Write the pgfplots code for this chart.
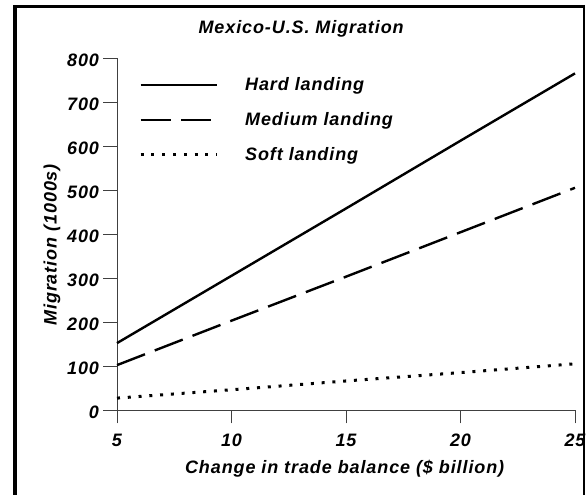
\documentclass[border=0pt]{standalone}
\usepackage{fontspec}
\setmainfont{Liberation Sans}[LetterSpace=5]
\usepackage{pgfplots}
\pgfplotsset{compat=1.18}
\newcommand{\cf}{\fontsize{18}{21}\selectfont\bfseries\itshape}
\begin{document}
\begin{tikzpicture}[x=1pt,y=1pt]
\useasboundingbox (0,0) rectangle (587,495);
\draw[line width=4pt] (15.3,-10) -- (15.3,488.5);
\draw[line width=3.6pt] (13.3,488.3) -- (585,488.3);
\draw[line width=2pt] (584,490) -- (584,-10);
\begin{axis}[
  at={(117pt,85pt)}, anchor=origin,
  scale only axis, width=458pt, height=352pt,
  xmin=5, xmax=25, ymin=0, ymax=800,
  xtick={5,10,15,20,25}, ytick={0,100,...,800},
  axis x line*=bottom, axis y line*=left,
  axis line style={line width=0.8pt, black!75},
  tick style={line width=0.8pt, black!75},
  tick align=outside, major tick length=13.5pt,
  /pgf/number format/assume math mode=true,
  ticklabel style={font=\cf},
  xticklabel style={yshift=-7pt},
  yticklabel style={xshift=-1pt, yshift=-2pt},
  title={Mexico-U.S. Migration},
  title style={font=\cf, at={(axis description cs:0.402,1.065)}, anchor=center, yshift=0pt},
  xlabel={Change in trade balance (\$ billion)},
  xlabel style={font=\cf, at={(axis description cs:0.497,-0.168)}, anchor=center},
  ylabel={Migration (1000s)},
  ylabel style={font=\cf, at={(axis description cs:-0.142,0.469)}, anchor=center},
  clip=false,
  legend style={draw=none, fill=none, at={(axis description cs:0.048,0.945)}, anchor=north west,
    inner sep=0pt, row sep=20.5pt, font=\cf, nodes={inner sep=0pt, anchor=west}},
  legend cell align=left,
  legend image code/.code={\draw[#1] (0pt,0pt) -- (76pt,0pt);},
]
\addplot[black, line width=2.4pt, line cap=butt] coordinates {(5,152) (10,305) (15,458) (20,612) (25,765)};
\addlegendentry{\hspace*{27pt}Hard landing}
\addplot[black, line width=2.4pt, line cap=butt, dash pattern=on 30pt off 10.5pt] coordinates {(5,102) (10,203) (15,303) (20,404) (25,505)};
\addlegendentry{\hspace*{27pt}Medium landing}
\addplot[black, line width=3pt, line cap=butt, dash pattern=on 3pt off 7.8pt] coordinates {(5,27) (10,46) (15,66) (20,85) (25,105)};
\addlegendentry{\hspace*{27pt}Soft landing}
\end{axis}
\end{tikzpicture}
\end{document}
